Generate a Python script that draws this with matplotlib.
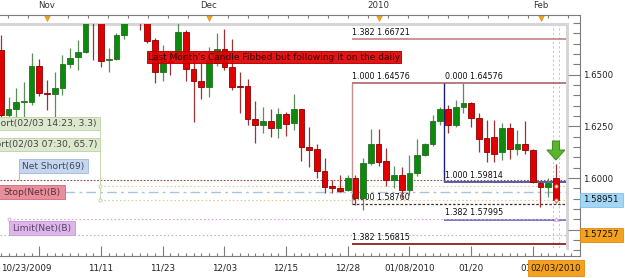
import numpy as np
import pandas as pd
import matplotlib
matplotlib.use("Agg")
import matplotlib.pyplot as plt
from matplotlib.patches import Rectangle, Polygon
from matplotlib.transforms import blended_transform_factory
from matplotlib.ticker import FixedLocator, MultipleLocator, FuncFormatter

plt.rcParams['font.family'] = ['DejaVu Sans']

# daily candles, 10/23/2009 -> 02/03/2010
opens = [
    1.6619, 1.6305, 1.6334, 1.6368, 1.6368, 1.6542, 1.6411, 1.6406, 1.6435, 1.6551,
    1.6585, 1.6609, 1.6775, 1.6780, 1.6571, 1.6575, 1.6691, 1.6788, 1.6803, 1.6764,
    1.6667, 1.6513, 1.6566, 1.6580, 1.6706, 1.6527, 1.6469, 1.6440, 1.6556, 1.6624,
    1.6537, 1.6445, 1.6445, 1.6285, 1.6256, 1.6276, 1.6242, 1.6310, 1.6266, 1.6334,
    1.6150, 1.6140, 1.6034, 1.5962, 1.5952, 1.5942, 1.6000, 1.5904, 1.6073, 1.6165,
    1.6082, 1.5991, 1.6015, 1.5942, 1.6024, 1.6111, 1.6165, 1.6276, 1.6334, 1.6256,
    1.6343, 1.6363, 1.6290, 1.6194, 1.6198, 1.6126, 1.6242, 1.6140, 1.6165, 1.6136,
    1.5976, 1.5957, 1.6000]
highs = [
    1.6691, 1.6392, 1.6435, 1.6464, 1.6604, 1.6575, 1.6474, 1.6513, 1.6595, 1.6629,
    1.6667, 1.6788, 1.6800, 1.6805, 1.6629, 1.6701, 1.6774, 1.6836, 1.6822, 1.6788,
    1.6677, 1.6643, 1.6609, 1.6749, 1.6716, 1.6571, 1.6561, 1.6633, 1.6701, 1.6720,
    1.6672, 1.6513, 1.6479, 1.6372, 1.6343, 1.6334, 1.6339, 1.6319, 1.6406, 1.6336,
    1.6247, 1.6165, 1.6097, 1.5991, 1.6015, 1.6015, 1.6015, 1.6097, 1.6237, 1.6237,
    1.6145, 1.6058, 1.6053, 1.6111, 1.6189, 1.6169, 1.6305, 1.6343, 1.6353, 1.6377,
    1.6458, 1.6368, 1.6314, 1.6281, 1.6281, 1.6266, 1.6266, 1.6232, 1.6276, 1.6140,
    1.5981, 1.6000, 1.6068]
lows = [
    1.6281, 1.6281, 1.6290, 1.6295, 1.6353, 1.6397, 1.6329, 1.6290, 1.6401, 1.6532,
    1.6522, 1.6604, 1.6571, 1.6537, 1.6513, 1.6571, 1.6672, 1.6764, 1.6716, 1.6653,
    1.6459, 1.6469, 1.6498, 1.6571, 1.6469, 1.6271, 1.6382, 1.6392, 1.6542, 1.6522,
    1.6426, 1.6314, 1.6256, 1.6169, 1.6218, 1.6198, 1.6194, 1.6203, 1.6232, 1.6082,
    1.6053, 1.6000, 1.5928, 1.5928, 1.5933, 1.5937, 1.5870, 1.5846, 1.6063, 1.6058,
    1.5962, 1.5952, 1.5904, 1.5918, 1.6010, 1.6107, 1.6155, 1.6256, 1.6218, 1.6247,
    1.6314, 1.6247, 1.6126, 1.6078, 1.6078, 1.6087, 1.6092, 1.6111, 1.6116, 1.5976,
    1.5860, 1.5908, 1.5879]
closes = [
    1.6305, 1.6334, 1.6368, 1.6372, 1.6542, 1.6411, 1.6406, 1.6435, 1.6551, 1.6580,
    1.6609, 1.6764, 1.6758, 1.6566, 1.6575, 1.6691, 1.6754, 1.6812, 1.6764, 1.6662,
    1.6513, 1.6571, 1.6561, 1.6706, 1.6527, 1.6469, 1.6440, 1.6571, 1.6624, 1.6537,
    1.6440, 1.6440, 1.6285, 1.6256, 1.6276, 1.6242, 1.6310, 1.6261, 1.6334, 1.6150,
    1.6136, 1.6034, 1.5957, 1.5952, 1.5937, 1.6000, 1.5904, 1.6073, 1.6165, 1.6078,
    1.5991, 1.6015, 1.5942, 1.6024, 1.6111, 1.6165, 1.6276, 1.6334, 1.6256, 1.6343,
    1.6363, 1.6290, 1.6189, 1.6126, 1.6116, 1.6242, 1.6140, 1.6165, 1.6136, 1.5981,
    1.5957, 1.5976, 1.58951]

# bars: weekdays without 12/25 and 01/01, plus the Sunday bar of 01/31
dates = pd.bdate_range("2009-10-23", "2010-02-03")
dates = dates.drop(pd.to_datetime(["2009-12-25", "2010-01-01"]))
dates = dates.union(pd.to_datetime(["2010-01-31"]))

# fibonacci drawings
fib1_ratios = ["1.382", "1.000", "0.000", "1.382"]
fib1_prices = [1.66721, 1.64576, 1.58760, 1.56815]
fib2_ratios = ["0.000", "1.000", "1.382"]
fib2_prices = [1.64576, 1.59814, 1.57995]
fib1_from, fib2_from = 45.5, 57.5

# open positions / orders
short_labels = ["Short(02/03 14:23, 3.3)", "Short(02/03 07:30, 65.7)"]
short_prices = [1.5962, 1.5896]
net_short_label, net_short_price = "Net Short(69)", 1.5993
stop_label, stop_price = "Stop(Net)(B)", 1.5932
limit_label, limit_price = "Limit(Net)(B)", 1.5802
alert_price = 1.57257
note = "Last Month's Candle Fibbed but following it on the daily"

W, H = 625, 278
PX_BAR = 7.71
PX_PRICE = 2069.0
FS = 5.8      # fibonacci texts
FS_LBL = 6.6  # order / position tickets
FS_AX = 6.2   # axis labels


def bar_at(px):
    return (px - 0.8) / PX_BAR


def price_at(py):
    return 1.66721 - (py - 39) / PX_PRICE


def fig_rect(x0, y0, x1, y1):
    return [x0 / W, 1 - y1 / H, (x1 - x0) / W, (y1 - y0) / H]


fig = plt.figure(figsize=(W / 100, H / 100), dpi=100)
fig.patch.set_facecolor('white')

# main price pane
ax = fig.add_axes(fig_rect(0, 24, 567, 248))
ax.set_xlim(bar_at(0), bar_at(567))
ax.set_ylim(price_at(248), price_at(24))
ax.set_xticks([])
ax.set_yticks([])
for s in ['left', 'bottom']:
    ax.spines[s].set_visible(False)
for s in ['top', 'right']:
    ax.spines[s].set_color('#d6d6d6')
    ax.spines[s].set_linewidth(2.2)

# candles
x = np.arange(len(opens))
o, h, l, c = (np.array(v) for v in (opens, highs, lows, closes))
up = c >= o
ax.vlines(x[up], l[up], h[up], color='#5a8f5a', lw=0.9, zorder=4)
ax.vlines(x[~up], l[~up], h[~up], color='#9b3434', lw=0.9, zorder=4)
lo = np.minimum(o, c)
hgt = np.abs(c - o)
small = hgt < 0.0007
lo = np.where(small, (o + c) / 2 - 0.00035, lo)
hgt = np.where(small, 0.0007, hgt)
ax.bar(x[up], hgt[up], 0.74, bottom=lo[up], color='#0c8a0c', edgecolor='#2b6a2b', lw=0.6, zorder=5)
ax.bar(x[~up], hgt[~up], 0.74, bottom=lo[~up], color='#e00000', edgecolor='#8e0000', lw=0.6, zorder=5)

right = bar_at(567)

# fibonacci 1 (maroon)
ax.vlines(fib1_from, fib1_prices[2], fib1_prices[1], color='#c99090', lw=1.0, zorder=2)
fib1_style = [('#c47878', '-', 1.1), ('#a85858', '-', 1.1), ('#4a2a2a', (0, (2, 1.5)), 0.9), ('#7d1010', '-', 1.2)]
for r, p, (col, ls, lw) in zip(fib1_ratios, fib1_prices, fib1_style):
    ax.hlines(p, fib1_from, right, color=col, ls=ls, lw=lw, zorder=2)
    ax.text(fib1_from + 0.1, p + 2.2 / PX_PRICE, f"{r} {p:.5f}", fontsize=FS,
            color='#111111', va='bottom', ha='left', zorder=3)

# fibonacci 2 (navy)
ax.vlines(fib2_from, fib2_prices[1], fib2_prices[0], color='#1e1e6e', lw=1.0, zorder=2)
fib2_style = [('#a85858', 1.1), ('#5a5aa8', 1.4), ('#6464b0', 1.2)]
for r, p, (col, lw) in zip(fib2_ratios, fib2_prices, fib2_style):
    if r != "0.000":
        ax.hlines(p, fib2_from, right, color=col, lw=lw, zorder=2)
    ax.text(fib2_from + 0.1, p + 2.2 / PX_PRICE, f"{r} {p:.5f}", fontsize=FS,
            color='#111111', va='bottom', ha='left', zorder=3)

# position / order lines
ax.hlines(net_short_price, bar_at(0), right, color='#8e4a4a', ls=(0, (1.5, 1.5)), lw=0.8, zorder=2)
for p in short_prices:
    ax.hlines(p, bar_at(100), right, color='#d0d39a', ls=(0, (1.5, 2)), lw=0.8, zorder=1.9)
ax.hlines(stop_price, bar_at(65), right, color='#a9c3dc', ls=(0, (7, 3, 2, 3)), lw=1.0, zorder=2)
ax.hlines(limit_price, bar_at(9), right, color='#d8a2e0', ls=(0, (1.5, 2)), lw=0.8, zorder=2)
ax.hlines(alert_price, bar_at(0), right, color='#b9b9b9', ls=(0, (1.5, 2)), lw=0.8, zorder=2)

# order time markers in the last bar
for t in (71.6, 72.45):
    ax.axvline(t, color='#c9c9c9', ls=(0, (2, 2)), lw=0.8, zorder=1)


def label_box(text, px0, px1, p_mid, fc, ec, tc, ha='center', tx=None):
    half = 6.8 / PX_PRICE
    ax.add_patch(Rectangle((bar_at(px0), p_mid - half), bar_at(px1) - bar_at(px0), 2 * half,
                           facecolor=fc, edgecolor=ec, lw=0.7, zorder=7))
    if tx is None:
        tx = (px0 + px1) / 2
    ax.text(bar_at(tx), p_mid, text, fontsize=FS_LBL, color=tc, ha=ha, va='center',
            zorder=8, clip_on=True)


# short tickets stacked at the top left, tied to a connector at x=100px
green_fc, green_ec = '#dde8cf', '#c3d6aa'
label_box(short_labels[0], -60, 100, price_at(123.5), green_fc, green_ec, '#444444', ha='right', tx=97)
label_box(short_labels[1], -60, 100, price_at(144.5), green_fc, green_ec, '#444444', ha='right', tx=97)
ax.vlines(bar_at(100), min(short_prices), price_at(130), color='#c9d9b2', lw=0.8, zorder=6)
ax.plot([bar_at(100)] * 2, short_prices, 'o', ms=2.2, mfc='white', mec='#b9cf9a', mew=0.6, zorder=6)

label_box(net_short_label, 19, 88, net_short_price + 13.5 / PX_PRICE, '#c6d6ee', '#a9bde0', '#3c4660')
ax.vlines(bar_at(19), net_short_price, net_short_price + 7 / PX_PRICE, color='#a9bde0', lw=0.8, zorder=6)
label_box(stop_label, -5, 65, stop_price, '#e78f9a', '#d67482', '#5c3040', ha='left', tx=3)
label_box(limit_label, 9, 75, limit_price - 9 / PX_PRICE, '#ddb7e9', '#c9a2da', '#5a4070')
ax.plot(bar_at(9), limit_price, 'o', ms=2.2, mfc='white', mec='#d8a2e0', mew=0.6, zorder=6)

# markers on the current bar
last = len(opens) - 1
ax.plot([last] * 2, short_prices, 'o', ms=2.4, mfc='white', mec='#e06a3a', mew=0.6, zorder=9)
ax.plot(last, limit_price, '^', ms=2.6, mfc='white', mec='#d8a2e0', mew=0.6, zorder=9)

# green sell arrow above the current bar
tip = highs[-1] + 4 / PX_PRICE
sx, hx, hh, sh = 3.5 / PX_BAR, 9 / PX_BAR, 10 / PX_PRICE, 9 / PX_PRICE
ax.add_patch(Polygon([(last, tip), (last - hx, tip + hh), (last - sx, tip + hh),
                      (last - sx, tip + hh + sh), (last + sx, tip + hh + sh),
                      (last + sx, tip + hh), (last + hx, tip + hh)],
                     closed=True, facecolor='#58b52c', edgecolor='#3a8a1c', lw=0.7, zorder=9))

# note banner
ax.text(bar_at(148), price_at(57), note, fontsize=6.5, color='#3a0000', ha='left', va='center',
        zorder=9, bbox=dict(boxstyle='square,pad=0.12', facecolor='#e00000', edgecolor='#b00000',
                            lw=0.7, alpha=0.92))

# right price scale
axr = fig.add_axes(fig_rect(0, 15, 580, 256), facecolor='none')
axr.set_ylim(price_at(256), price_at(15))
axr.set_xticks([])
for s in ['left', 'top', 'bottom']:
    axr.spines[s].set_visible(False)
axr.spines['right'].set_color('#7c7c7c')
axr.yaxis.tick_right()
axr.yaxis.set_major_locator(FixedLocator([1.575, 1.6, 1.625, 1.65]))
axr.yaxis.set_minor_locator(MultipleLocator(0.005))
# 1.5750 sits under the orange alert tag, so it gets no label
axr.yaxis.set_major_formatter(FuncFormatter(lambda v, _: '' if v < 1.58 else f"{v:.4f}"))
axr.tick_params(axis='y', which='major', direction='in', length=8.5, width=0.8,
                color='#7c7c7c', labelsize=FS_AX, pad=2.5, labelcolor='#222222')
axr.tick_params(axis='y', which='minor', direction='in', length=5, width=0.8, color='#7c7c7c')

fig_y = blended_transform_factory(fig.transFigure, axr.transData)


def price_tag(p, fc, ec):
    half = 7 / PX_PRICE
    axr.add_patch(Rectangle((580 / W, p - half), 43 / W, 2 * half, transform=fig_y,
                            facecolor=fc, edgecolor=ec, lw=0.6, zorder=5, clip_on=False))
    axr.text(583 / W, p, f"{p:.5f}", transform=fig_y, fontsize=FS_AX, color='#111111',
             va='center', ha='left', zorder=6, clip_on=False)


price_tag(closes[-1], '#a3d6f5', '#7fc0ea')
price_tag(alert_price, '#f3a11f', '#e08a10')

# top month scale
axt = fig.add_axes(fig_rect(0, 15, 580, 24), facecolor='none')
axt.set_xlim(bar_at(0), bar_at(580))
axt.set_ylim(0, 1)
axt.set_yticks([])
for s in ['left', 'right', 'bottom']:
    axt.spines[s].set_visible(False)
axt.spines['top'].set_color('#7c7c7c')
axt.xaxis.tick_top()
axt.set_xticks([bar_at(px) for px in np.arange(7.7, 580, 20)])
axt.set_xticklabels([])
axt.tick_params(axis='x', direction='in', length=2.5, width=0.8, color='#7c7c7c')
month_start = [i for i in range(1, len(dates)) if dates[i].month != dates[i - 1].month]
for i in month_start:
    name = str(dates[i].year) if dates[i].month == 1 else dates[i].strftime('%b')
    axt.plot(i, 0.72, 'v', ms=4, color='#f3a11f', mec='#e08a10', mew=0.4, clip_on=False)
    axt.annotate(name, (i, 1.0), xytext=(0, 3.6), textcoords='offset points', ha='center',
                 va='bottom', fontsize=FS_AX, color='#333333', annotation_clip=False)

# bottom date scale
axb = fig.add_axes(fig_rect(0, 246, 580, 256), facecolor='none')
axb.set_xlim(bar_at(0), bar_at(580))
axb.set_ylim(0, 1)
axb.set_yticks([])
for s in ['left', 'right', 'top']:
    axb.spines[s].set_visible(False)
axb.spines['bottom'].set_color('#7c7c7c')
major = list(range(5, len(dates), 8))
labels = []
prev_year = dates[0].year
for i in major:
    d = dates[i]
    if i == 5:
        labels.append('')
    elif d.year != prev_year:
        labels.append(d.strftime('%m/%d/%Y'))
    else:
        labels.append(d.strftime('%m/%d'))
    prev_year = d.year
axb.xaxis.set_major_locator(FixedLocator(major))
axb.xaxis.set_minor_locator(FixedLocator(np.arange(0, 75)))
axb.set_xticklabels(labels)
axb.tick_params(axis='x', which='major', direction='in', length=7.2, width=0.8, color='#7c7c7c',
                labelsize=FS_AX + 0.1, pad=5.5, labelcolor='#222222')
axb.tick_params(axis='x', which='minor', direction='in', length=2.4, width=0.8, color='#7c7c7c')
bt = blended_transform_factory(axb.transData, axb.transAxes)
axb.text(bar_at(1), -1.2, dates[0].strftime('%m/%d/%Y'), transform=bt, ha='left', va='center',
         fontsize=FS_AX + 0.1, color='#222222')
axb.text(last, -1.2, dates[-1].strftime('%m/%d/%Y'), transform=bt, ha='center', va='center',
         fontsize=FS_AX + 0.1, color='#2a1a00', zorder=10,
         bbox=dict(boxstyle='square,pad=0.35', facecolor='#f3a11f', edgecolor='#e08a10', lw=0.6))

fig.savefig('out.png', dpi=100)
